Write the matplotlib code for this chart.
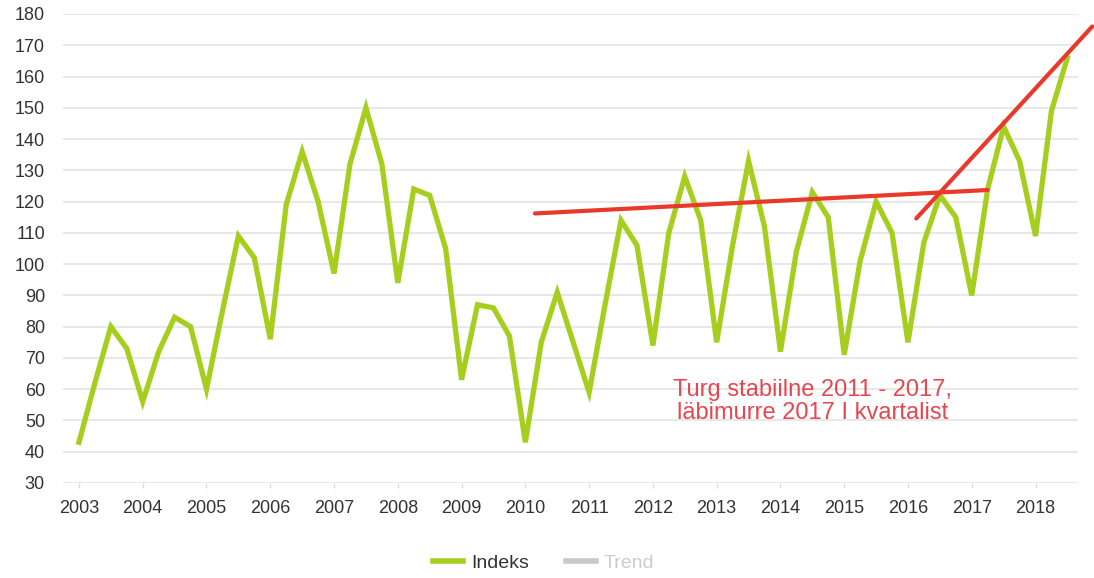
import matplotlib.pyplot as plt
from matplotlib.lines import Line2D

plt.rcParams['font.family'] = ['Liberation Sans', 'DejaVu Sans']

# quarterly index, 2003 Q1 .. 2018 Q3
start_year = 2003
indeks = [43, 62, 80, 73,
          56, 72, 83, 80,
          60, 85, 109, 102,
          76, 119, 136, 120,
          97, 132, 150, 132,
          94, 124, 122, 105,
          63, 87, 86, 77,
          43, 75, 91, 75,
          59, 87, 114, 106,
          74, 110, 128, 114,
          75, 106, 133, 112,
          72, 104, 123, 115,
          71, 101, 120, 110,
          75, 107, 122, 115,
          90, 124, 144, 133,
          109, 149, 166]
quarters = [start_year + i * 0.25 for i in range(len(indeks))]

# hand drawn red lines
flat_x = [2010.15, 2017.25]
flat_y = [116.2, 123.7]
break_x = [2016.13, 2018.89]
break_y = [114.6, 176.0]

years = list(range(2003, 2019))
yticks = list(range(30, 181, 10))

green = '#a6ce1e'
red = '#e8392b'

fig = plt.figure(figsize=(10.94, 5.78), dpi=100)
ax = fig.add_axes([0.0576, 0.1644, 0.9274, 0.8114])

ax.plot(quarters, indeks, color=green, lw=3.8, solid_joinstyle='miter', zorder=3)
ax.plot(flat_x, flat_y, color=red, lw=3, solid_capstyle='round', zorder=4)
ax.plot(break_x, break_y, color=red, lw=3, solid_capstyle='round', zorder=4, clip_on=False)

ax.text(2014.5, 56, 'Turg stabiilne 2011 - 2017,\nläbimurre 2017 I kvartalist',
        color='#e5474f', fontsize=17, ha='center', va='center', linespacing=1.05)

ax.set_xlim(2002.75, 2018.66)
ax.set_ylim(30, 180)
ax.set_xticks(years)
ax.set_xticklabels([str(y) for y in years])
ax.set_yticks(yticks)
ax.grid(axis='y', color='#e4e4e4', lw=1.2)
ax.set_axisbelow(True)
for s in ax.spines.values():
    s.set_visible(False)
ax.tick_params(labelsize=13, labelcolor='#333333')
ax.tick_params(axis='x', length=3.6, width=1, color='#dddddd', pad=9)
ax.tick_params(axis='y', length=0, pad=13)

handles = [Line2D([], [], color=green, lw=4),
           Line2D([], [], color='#c8c8c8', lw=4)]
leg = fig.legend(handles, ['Indeks', 'Trend'], loc='center', bbox_to_anchor=(0.497, 0.026),
                 ncol=2, frameon=False, fontsize=14, handlelength=1.55, handletextpad=0.4,
                 columnspacing=1.9)
leg.get_texts()[0].set_color('#333333')
leg.get_texts()[1].set_color('#cccccc')

fig.savefig('out.png', dpi=100)
